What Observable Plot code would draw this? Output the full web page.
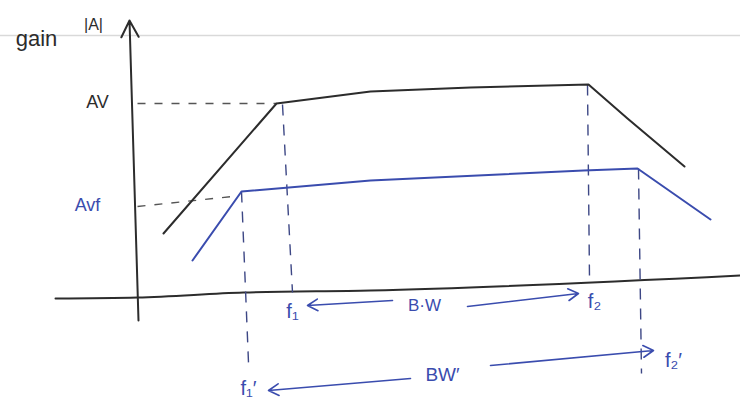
<!DOCTYPE html>
<html>
<head>
<meta charset="utf-8">
<script src="https://cdn.jsdelivr.net/npm/d3@7"></script>
<script src="https://cdn.jsdelivr.net/npm/@observablehq/plot@0.6"></script>
<style>
  html, body { margin: 0; padding: 0; background: #ffffff; }
  #chart { width: 740px; height: 408px; }
</style>
</head>
<body>
<div id="chart"></div>
<script>
// Frequency response sketch: open-loop gain Av versus feedback gain Avf.
// Units are arbitrary: frequency along x, gain |A| along y, origin at the axes' crossing.

const INK = "#2c2c2c";
const BLUE = "#3a4cae";

// Open-loop response (black)
const avFreq = [26, 139, 233, 333, 451, 490, 547];
const avGain = [64, 194, 206, 210, 213, 179, 131];

// Response with feedback (blue)
const avfFreq = [55, 104, 233, 446, 500, 573];
const avfGain = [37, 106, 117, 127, 129, 78];

// Mid-band gain levels marked on the gain axis
const levelNames = ["AV", "Avf"];
const levelFreqEnd = [139, 95];
const levelGainStart = [194, 91];
const levelGainEnd = [194, 101];

// Cut-off frequencies: dashed drops from the curve corners
const cutoffNames = ["f₁", "f₁′", "f₂", "f₂′"];
const cutoffTopFreq = [145, 104, 450, 501];
const cutoffTopGain = [193, 106, 213, 129];
const cutoffBottomFreq = [155, 111, 452, 504];
const cutoffBottomGain = [5, -65, 19, -76];
const cutoffColors = ["#3d4785", "#3d4785", "#3d4785", "#3d4785"];

// Bandwidth arrows (each pair points out from its label)
const bwFrom = [[255, -3], [330, -9], [273, -81], [353, -68]];
const bwTo = [[170, -8], [441, 4], [131, -93], [516, -53]];

// Horizontal frequency axis, drawn by hand
const axisFreq = [-82, 0, 106, 233, 603];
const axisGain = [-1, 0, 5, 7, 22];

// Text labels
const labelText = ["gain", "|A|", "AV", "Avf", "f₁", "B·W", "f₂", "f₁′", "BW′", "f₂′"];
const labelFreq = [-101, -44, -40, -50, 155, 287, 457, 111, 305, 536];
const labelGain = [259, 273, 195, 92, -14, -8, -4, -91, -77, -63];
const labelColor = [INK, INK, INK, BLUE, BLUE, BLUE, BLUE, BLUE, BLUE, BLUE];
const labelSize = [22, 16, 18, 18, 20, 17, 20, 20, 19, 20];

const av = avFreq.map((f, i) => ({f, g: avGain[i]}));
const avf = avfFreq.map((f, i) => ({f, g: avfGain[i]}));
const levels = levelNames.map((name, i) => ({name, f1: 0, f2: levelFreqEnd[i], g1: levelGainStart[i], g2: levelGainEnd[i]}));
const cutoffs = cutoffNames.map((name, i) => ({
  name, x1: cutoffTopFreq[i], y1: cutoffTopGain[i], x2: cutoffBottomFreq[i], y2: cutoffBottomGain[i], c: cutoffColors[i]
}));
const bw = bwFrom.map((p, i) => ({x1: p[0], y1: p[1], x2: bwTo[i][0], y2: bwTo[i][1]}));
const xAxis = axisFreq.map((f, i) => ({f, g: axisGain[i]}));
const labels = labelText.map((t, i) => ({t, f: labelFreq[i], g: labelGain[i], c: labelColor[i], s: labelSize[i]}));

const chart = Plot.plot({
  width: 740,
  height: 408,
  margin: 0,
  style: {background: "#ffffff", fontFamily: "'Liberation Sans', 'DejaVu Sans', sans-serif"},
  x: {domain: [-137, 603], axis: null},
  y: {domain: [-111, 297], axis: null},
  marks: [
    // ruled paper line
    Plot.ruleY([262], {stroke: "#d9d9d9", strokeWidth: 1.5}),
    // axes
    Plot.line(xAxis, {x: "f", y: "g", stroke: INK, strokeWidth: 2, curve: "monotone-x"}),
    Plot.arrow([{x1: 1, y1: -23, x2: -8, y2: 277}], {
      x1: "x1", y1: "y1", x2: "x2", y2: "y2", stroke: INK, strokeWidth: 2, headLength: 14, headAngle: 55
    }),
    // gain levels
    Plot.link(levels, {
      x1: "f1", y1: "g1", x2: "f2", y2: "g2", stroke: "#555", strokeWidth: 1.4, strokeDasharray: "8 9"
    }),
    // cut-off drops
    Plot.link(cutoffs, {
      x1: "x1", y1: "y1", x2: "x2", y2: "y2", stroke: "c", strokeWidth: 1.4, strokeDasharray: "11 9"
    }),
    // responses
    Plot.line(av, {x: "f", y: "g", stroke: INK, strokeWidth: 2, curve: "linear"}),
    Plot.line(avf, {x: "f", y: "g", stroke: BLUE, strokeWidth: 2, curve: "linear"}),
    // bandwidth arrows
    Plot.arrow(bw, {
      x1: "x1", y1: "y1", x2: "x2", y2: "y2", stroke: BLUE, strokeWidth: 1.6, headLength: 11, headAngle: 60
    }),
    // labels
    Plot.text(labels, {
      x: "f", y: "g", text: "t", fill: "c", fontSize: "s", textAnchor: "middle"
    })
  ]
});

document.getElementById("chart").append(chart);
</script>
</body>
</html>
